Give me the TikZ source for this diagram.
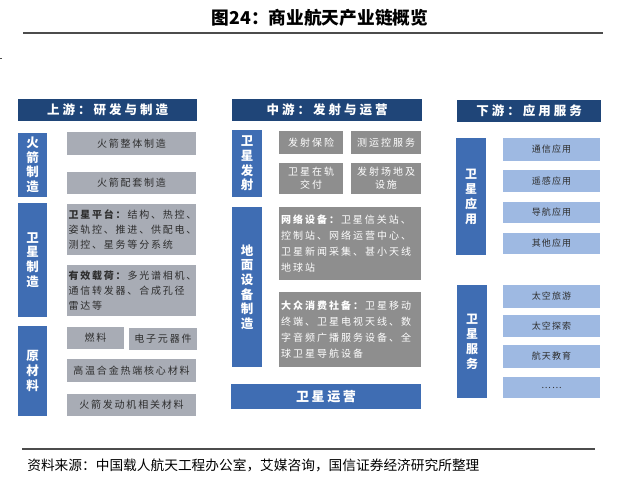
\documentclass[tikz,border=0pt]{standalone}
\usepackage{fontspec}
\setmainfont{Noto Sans CJK SC}
\newfontfamily\cjkbox[LetterSpace=18]{Noto Sans CJK SC}
\newfontfamily\cjkmid[LetterSpace=20]{Noto Sans CJK SC}
\newfontfamily\cjkhead[LetterSpace=24]{Noto Sans CJK SC}
\newfontfamily\cjkapp[LetterSpace=12]{Noto Sans CJK SC}
\definecolor{navy}{HTML}{1F4578}
\definecolor{catblue}{HTML}{3F6DB3}
\definecolor{lgray}{HTML}{A8ACB5}
\definecolor{dgray}{HTML}{8E8E8E}
\definecolor{appblue}{HTML}{9EB9E2}
\definecolor{txtgray}{HTML}{2E2E2E}

\begin{document}
\begin{tikzpicture}[x=1pt,y=-1pt,semithick,
    head/.style={fill=navy,text=white,inner sep=0pt,font={\fontsize{12.5}{14}\cjkhead\bfseries}},
    cat/.style={fill=catblue,text=white,inner sep=0pt,align=center,font={\fontsize{12.5}{14.6}\selectfont\bfseries}},
    gbox/.style={fill=lgray,text=txtgray,inner sep=1.5pt,font={\fontsize{10}{15}\cjkbox}},
    dbox/.style={fill=dgray,text=white,inner sep=2pt,font={\fontsize{10}{16}\cjkmid}},
    abox/.style={fill=appblue,text=txtgray,inner sep=0pt,font={\fontsize{9}{11}\cjkapp}},
    rule/.style={draw=black!70,line width=1.1pt}]
    \useasboundingbox (0,0) rectangle (620,482);
    \node[font={\fontsize{17.7}{20}\selectfont\bfseries}] (title) at (320,18) {图24：商业航天产业链概览};
    \draw[rule] (23,33) -- (603,33);
    \fill[black!70] (0,57.5) rectangle (1.5,59);
    % upstream
    \node[head,minimum width=179pt,minimum height=22pt] (hup) at (107.5,110) {上游：研发与制造};
    \node[cat,minimum width=29pt,minimum height=64pt] (rkt) at (32.5,165) {火\\箭\\制\\造};
    \node[gbox,minimum width=129pt,minimum height=23pt] (rkt1) at (131.5,143.5) {火箭整体制造};
    \node[gbox,minimum width=129pt,minimum height=22pt] (rkt2) at (131.5,183) {火箭配套制造};
    \node[cat,minimum width=29pt,minimum height=114pt] (sat) at (32.5,260) {卫\\星\\制\\造};
    \node[gbox,text width=126pt,align=left,minimum height=51pt] (sat1) at (131.5,229.5)
      {\textbf{卫星平台：}结构、热控、\\姿轨控、推进、供配电、\\测控、星务等分系统};
    \node[gbox,text width=126pt,align=left,minimum height=51pt] (sat2) at (131.5,290.5)
      {\textbf{有效载荷：}多光谱相机、\\通信转发器、合成孔径\\雷达等};
    \node[cat,minimum width=29pt,minimum height=90pt] (raw) at (32.5,371) {原\\材\\料};
    \node[gbox,minimum width=57pt,minimum height=22pt] (raw1) at (95.5,338) {燃料};
    \node[gbox,minimum width=68pt,minimum height=22pt] (raw2) at (163,339) {电子元器件};
    \node[gbox,minimum width=129pt,minimum height=23pt] (raw3) at (131.5,370.5) {高温合金热端核心材料};
    \node[gbox,minimum width=129pt,minimum height=22pt] (raw4) at (131.5,405) {火箭发动机相关材料};
    % midstream
    \node[head,minimum width=190pt,minimum height=22pt] (hmid) at (327,110) {中游：发射与运营};
    \node[cat,minimum width=30pt,minimum height=67pt] (lch) at (247,163.5) {卫\\星\\发\\射};
    \node[dbox,minimum width=64pt,minimum height=23pt] (lch1) at (311,142.5) {发射保险};
    \node[dbox,minimum width=70pt,minimum height=23pt] (lch2) at (386,142.5) {测运控服务};
    \node[dbox,align=center,minimum width=64pt,minimum height=31pt,font={\fontsize{10}{13}\cjkmid}] (lch3) at (311,178.5) {卫星在轨\\交付};
    \node[dbox,align=center,minimum width=70pt,minimum height=31pt,font={\fontsize{10}{13}\cjkmid}] (lch4) at (386,178.5) {发射场地及\\设施};
    \node[cat,minimum width=30pt,minimum height=160pt] (gnd) at (247,287) {地\\面\\设\\备\\制\\造};
    \node[dbox,text width=138pt,align=left,minimum height=73pt] (gnd1) at (350,243.5)
      {\textbf{网络设备：}卫星信关站、\\控制站、网络运营中心、\\卫星新闻采集、甚小天线\\地球站};
    \node[dbox,text width=138pt,align=left,minimum height=75pt] (gnd2) at (350,329.5)
      {\textbf{大众消费社备：}卫星移动\\终端、卫星电视天线、数\\字音频广播服务设备、全\\球卫星导航设备};
    \node[cat,minimum width=190pt,minimum height=25pt,font={\fontsize{13}{15}\cjkmid\bfseries}] (ops) at (326,396.5) {卫星运营};
    % downstream
    \node[head,minimum width=144pt,minimum height=22pt] (hdown) at (529,111) {下游：应用服务};
    \node[cat,minimum width=30pt,minimum height=117pt,font={\fontsize{12}{15}\selectfont\bfseries}] (app) at (471,196.5) {卫\\星\\应\\用};
    \node[abox,minimum width=97pt,minimum height=23pt] (app1) at (551.5,149.5) {通信应用};
    \node[abox,minimum width=97pt,minimum height=22pt] (app2) at (551.5,181) {遥感应用};
    \node[abox,minimum width=97pt,minimum height=21pt] (app3) at (551.5,212.5) {导航应用};
    \node[abox,minimum width=97pt,minimum height=21pt] (app4) at (551.5,243.5) {其他应用};
    \node[cat,minimum width=30pt,minimum height=113pt,font={\fontsize{12}{15}\selectfont\bfseries}] (svc) at (472,341.5) {卫\\星\\服\\务};
    \node[abox,minimum width=97pt,minimum height=23pt] (svc1) at (551.5,296.5) {太空旅游};
    \node[abox,minimum width=97pt,minimum height=22pt] (svc2) at (551.5,326) {太空探索};
    \node[abox,minimum width=97pt,minimum height=23pt] (svc3) at (551.5,356.5) {航天教育};
    \node[abox,minimum width=97pt,minimum height=21pt] (svc4) at (551.5,387.5) {……};
    % source
    \draw[rule] (22,449) -- (595,449);
    \node[anchor=west,inner sep=0pt,font={\fontsize{13.7}{16}\selectfont}] (src) at (27,465)
      {资料来源：中国载人航天工程办公室，艾媒咨询，国信证券经济研究所整理};
  \end{tikzpicture}
\end{document}
